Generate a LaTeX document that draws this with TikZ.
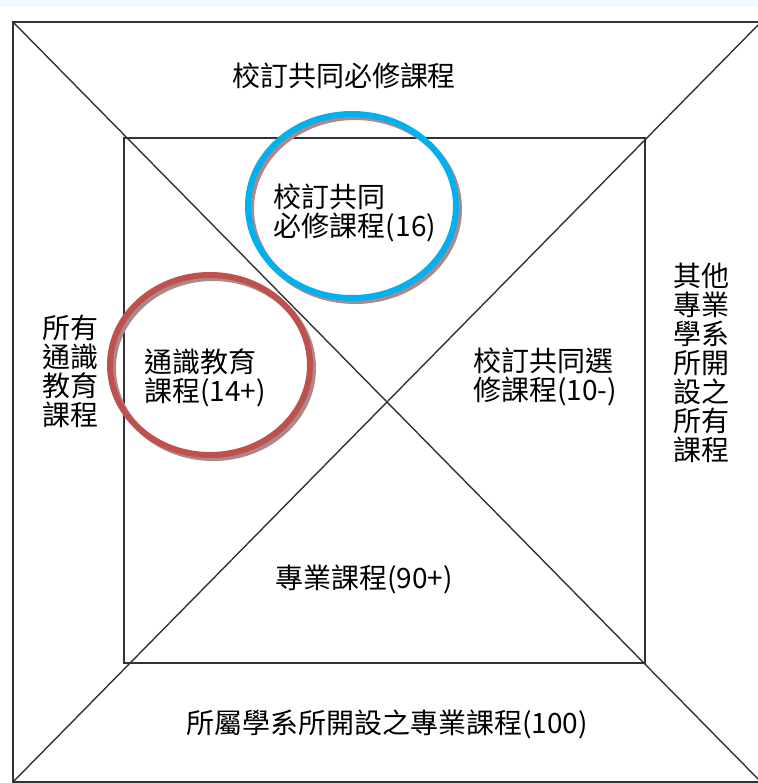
\documentclass[tikz,border=0pt]{standalone}
\usepackage{fontspec}
\setmainfont{Noto Sans CJK TC}
\definecolor{bandcol}{HTML}{F1FAFE}
\definecolor{linecol}{HTML}{333333}
\definecolor{bluering}{HTML}{00B0F0}
\definecolor{redring}{HTML}{C0504D}
\definecolor{shadecol}{HTML}{A88A8A}
\tikzset{
  frame/.style={draw=linecol, line width=1pt},
  diag/.style={draw=linecol, line width=0.7pt},
  ring/.style={line width=3pt},
  ringshade/.style={draw=shadecol, line width=3pt},
  lbl/.style={font=\fontsize{14}{14.5}\selectfont, align=left, inner sep=0pt}
}
\begin{document}
\begin{tikzpicture}[x=0.5pt, y=-0.5pt]
  \useasboundingbox (0,0) rectangle (758,783);
  \fill[bandcol] (0,0) rectangle (758,7);

  % squares and diagonals
  \coordinate (O1) at (13,22);
  \coordinate (O2) at (761,22);
  \coordinate (O3) at (761,782);
  \coordinate (O4) at (13,782);
  \coordinate (I1) at (124,138);
  \coordinate (I3) at (645,663);
  \draw[frame] (O1) rectangle (O3);
  \draw[frame] (I1) rectangle (I3);
  \draw[diag] (O1) -- (O3);
  \draw[diag] (O2) -- (O4);

  % rings
  \draw[ringshade] (355,209) ellipse [x radius=52pt, y radius=46pt];
  \draw[ring, bluering] (352,206) ellipse [x radius=52pt, y radius=46pt];
  \draw[ringshade] (213,368) ellipse [x radius=50pt, y radius=45pt];
  \draw[ring, redring] (210,365) ellipse [x radius=50pt, y radius=45pt];

  \node[lbl] (top) at (344,76) {校訂共同必修課程};
  \node[lbl] (req) at (355,213) {校訂共同\\必修課程(16)};
  \node[lbl] (gen) at (205,378) {通識教育\\課程(14+)};
  \node[lbl] (left) at (70,371) {所有\\通識\\教育\\課程};
  \node[lbl] (right) at (701,363) {其他\\專業\\學系\\所開\\設之\\所有\\課程};
  \node[lbl] (elec) at (545,377) {校訂共同選\\修課程(10-)};
  \node[lbl] (major) at (364,579) {專業課程(90+)};
  \node[lbl] (bottom) at (387,724) {所屬學系所開設之專業課程(100)};
\end{tikzpicture}
\end{document}
